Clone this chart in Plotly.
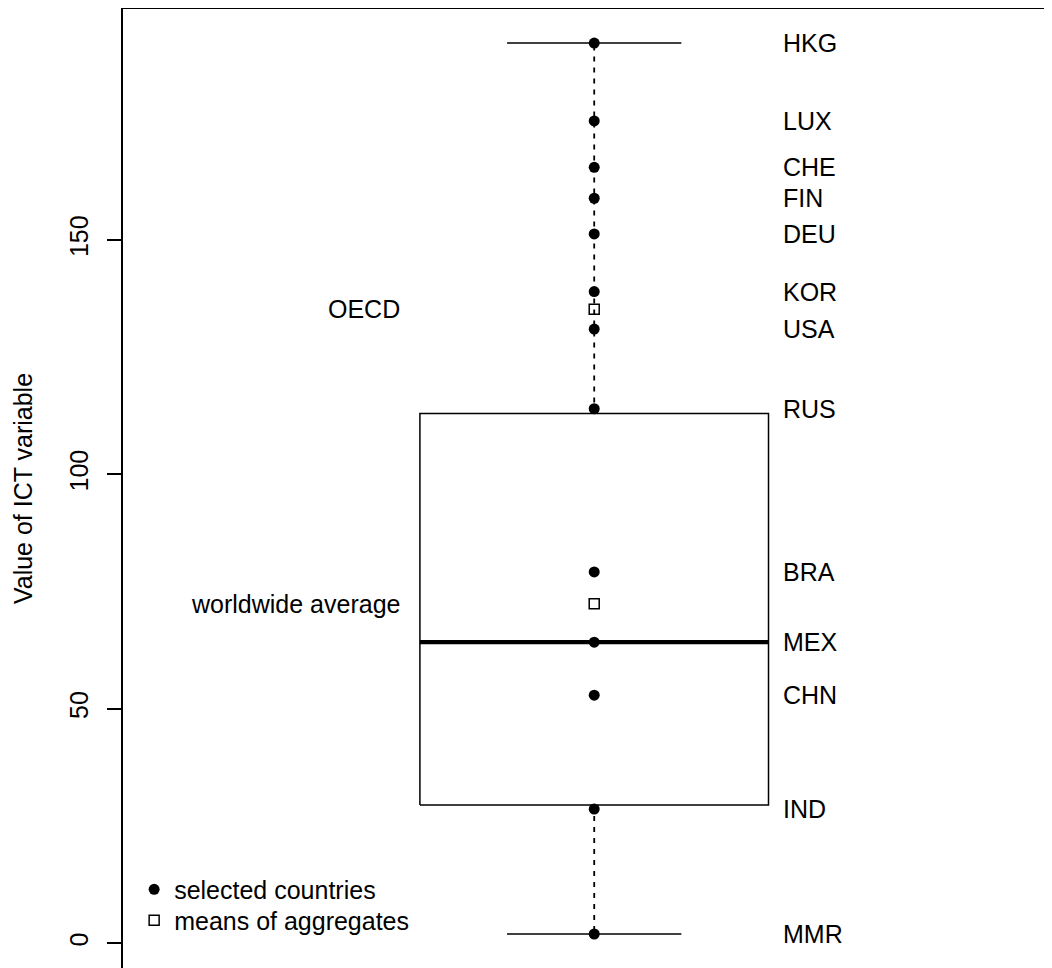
import plotly.graph_objects as go

# ---- data ----
countries = ["HKG", "LUX", "CHE", "FIN", "DEU", "KOR", "USA", "RUS",
             "BRA", "MEX", "CHN", "IND", "MMR"]
country_values = [192.0, 175.4, 165.5, 158.9, 151.3, 139.0, 131.0, 114.0,
                  79.2, 64.2, 52.9, 28.6, 1.96]

aggregates = ["OECD", "worldwide average"]
aggregate_values = [135.2, 72.4]

box_lower_whisker = 1.96
box_q1 = 29.5
box_median = 64.2
box_q3 = 113.0
box_upper_whisker = 192.0

y_tick_values = [0, 50, 100, 150]
y_tick_labels = ["0", "50", "100", "150"]

# ---- styling constants ----
FONT = "Liberation Sans, Arial, Helvetica, sans-serif"
FS = 25
CENTER = 1.0
HALF_BOX = 0.2
HALF_CAP = 0.1
BLACK = "#000000"

fig = go.Figure()

# box outline
fig.add_trace(go.Scatter(
    x=[CENTER - HALF_BOX, CENTER + HALF_BOX, CENTER + HALF_BOX, CENTER - HALF_BOX, CENTER - HALF_BOX],
    y=[box_q1, box_q1, box_q3, box_q3, box_q1],
    mode="lines", line=dict(color=BLACK, width=1.5),
    showlegend=False, hoverinfo="skip"))
# whiskers (dashed)
for y0, y1 in [(box_q3, box_upper_whisker), (box_q1, box_lower_whisker)]:
    fig.add_trace(go.Scatter(
        x=[CENTER, CENTER], y=[y0, y1], mode="lines",
        line=dict(color=BLACK, width=1.8, dash="5px,6px"),
        showlegend=False, hoverinfo="skip"))
# staples
for yv in [box_upper_whisker, box_lower_whisker]:
    fig.add_trace(go.Scatter(
        x=[CENTER - HALF_CAP, CENTER + HALF_CAP], y=[yv, yv], mode="lines",
        line=dict(color=BLACK, width=1.5),
        showlegend=False, hoverinfo="skip"))
# median
fig.add_trace(go.Scatter(
    x=[CENTER - HALF_BOX, CENTER + HALF_BOX], y=[box_median, box_median],
    mode="lines", line=dict(color=BLACK, width=4.2),
    showlegend=False, hoverinfo="skip"))

# points
fig.add_trace(go.Scatter(
    x=[CENTER] * len(country_values), y=country_values, mode="markers",
    marker=dict(symbol="circle", size=11, color=BLACK, line=dict(width=0)),
    name="selected countries", text=countries, legend="legend"))
fig.add_trace(go.Scatter(
    x=[CENTER] * len(aggregate_values), y=aggregate_values, mode="markers",
    marker=dict(symbol="square-open", size=10, color=BLACK, line=dict(width=1.5, color=BLACK)),
    name="means of aggregates", text=aggregates, legend="legend2"))

# labels
annotations = []
for name, v in zip(countries, country_values):
    annotations.append(dict(x=CENTER + HALF_BOX, y=v, xref="x", yref="y", text=name,
                            showarrow=False, xanchor="left", yanchor="middle", xshift=12,
                            font=dict(family=FONT, size=FS, color=BLACK)))
for name, v in zip(aggregates, aggregate_values):
    annotations.append(dict(x=CENTER - HALF_BOX, y=v, xref="x", yref="y", text=name,
                            showarrow=False, xanchor="right", yanchor="middle", xshift=-18,
                            font=dict(family=FONT, size=FS, color=BLACK)))

legend_style = dict(xanchor="left", yanchor="top", bgcolor="rgba(0,0,0,0)", borderwidth=0,
                    font=dict(family=FONT, size=FS, color=BLACK), itemsizing="trace")

fig.update_layout(
    width=1044, height=960,
    margin=dict(l=115, r=0, t=1, b=0, pad=0),
    paper_bgcolor="white", plot_bgcolor="white",
    font=dict(family=FONT, size=FS, color=BLACK),
    annotations=annotations,
    showlegend=True,
    legend=dict(x=0.012, y=0.1058, **legend_style),
    legend2=dict(x=0.012, y=0.0735, **legend_style),
    xaxis=dict(range=[0.4593, 1.5253], side="top", showline=True, linecolor=BLACK,
               linewidth=1.5, showticklabels=False, ticks="", showgrid=False,
               zeroline=False, fixedrange=True),
    yaxis=dict(range=[-5.29, 199.27], showline=True, linecolor=BLACK, linewidth=1.5,
               ticks="outside", ticklen=14, tickwidth=1.5, tickcolor=BLACK,
               tickvals=y_tick_values, ticktext=y_tick_labels, tickangle=-90,
               tickfont=dict(family=FONT, size=FS, color=BLACK),
               ticklabelstandoff=9,
               showgrid=False, zeroline=False, fixedrange=True,
               title=dict(text="Value of ICT variable", standoff=26,
                          font=dict(family=FONT, size=FS, color=BLACK))),
)

fig.write_html("out.html", config={"displayModeBar": False})
